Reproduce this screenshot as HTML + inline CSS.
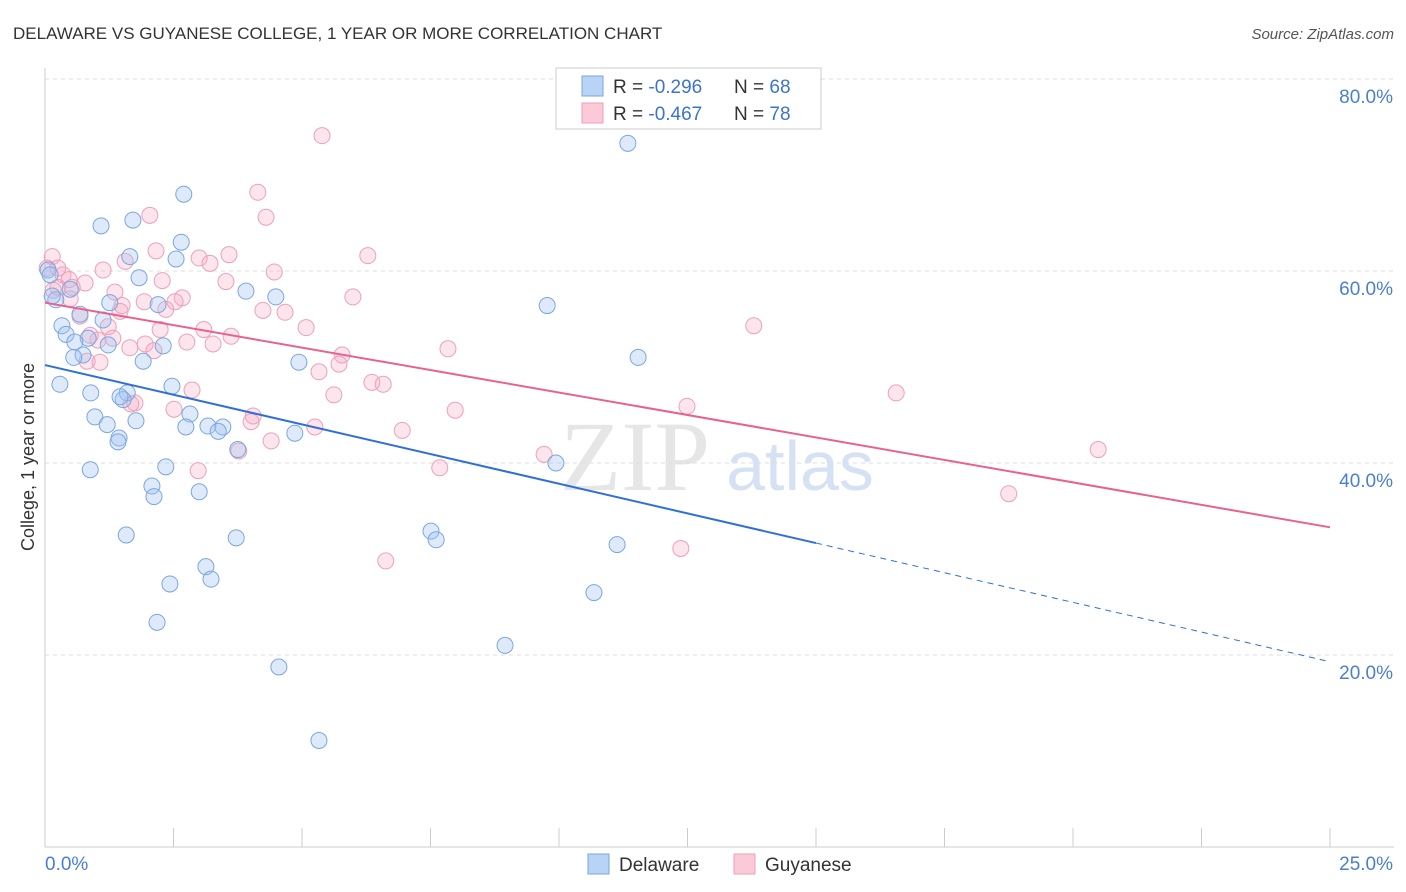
<!DOCTYPE html>
<html><head><meta charset="utf-8"><style>
body{margin:0;background:#fff;font-family:"Liberation Sans",sans-serif;}
svg{display:block}
</style></head><body>
<svg id="chart" width="1406" height="892">
<text x="13" y="39" font-size="17" fill="#333">DELAWARE VS GUYANESE COLLEGE, 1 YEAR OR MORE CORRELATION CHART</text>
<text x="1394" y="39" font-size="15" fill="#555" font-style="italic" text-anchor="end">Source: ZipAtlas.com</text>
<text x="34" y="457" font-size="18" fill="#333" text-anchor="middle" transform="rotate(-90 34 457)">College, 1 year or more</text>
<text x="635" y="490" font-size="100" fill="#e6e6e6" font-family="Liberation Serif,serif" text-anchor="middle">ZIP</text>
<text x="800" y="490" font-size="70" fill="#d6e2f4" text-anchor="middle">atlas</text>
<g id="grid"></g><g id="marks"></g><g id="lines"></g>
<g>
<rect x="556" y="68" width="265" height="61" fill="#fff" stroke="#ccc"/>
<rect x="582" y="76" width="21" height="20" fill="#b8d3f5" stroke="#7aa7e0"/>
<rect x="582" y="103" width="21" height="20" fill="#fbc9d8" stroke="#eea0b8"/>
<text x="613" y="93" font-size="19" fill="#333">R = <tspan fill="#3b73d0">-0.296</tspan><tspan x="734">N = </tspan><tspan fill="#3b73d0">68</tspan></text>
<text x="613" y="120" font-size="19" fill="#333">R = <tspan fill="#3b73d0">-0.467</tspan><tspan x="734">N = </tspan><tspan fill="#3b73d0">78</tspan></text>
</g>
<g>
<rect x="588" y="854" width="21" height="20" fill="#b8d3f5" stroke="#7aa7e0"/>
<text x="619" y="871" font-size="19" fill="#333">Delaware</text>
<rect x="734" y="854" width="21" height="20" fill="#fbc9d8" stroke="#eea0b8"/>
<text x="765" y="871" font-size="19" fill="#333">Guyanese</text>
</g>
</svg>
<script>
const yTicks=[20,40,60,80];
const xTickLabels=["0.0%","25.0%"];
const blueX=[11.34,2.70,1.09,1.71,2.65,1.65,2.55,0.06,1.83,0.49,3.91,4.49,0.21,1.26,2.20,9.77,0.68,1.13,0.33,0.41,0.84,0.58,2.30,0.74,0.56,1.91,4.94,11.54,0.29,2.47,0.89,1.60,1.52,2.82,0.97,1.77,1.21,2.74,3.17,3.46,3.37,1.44,1.42,4.86,3.75,9.94,0.88,2.35,2.08,2.12,3.00,7.51,7.61,1.58,3.72,11.13,3.13,3.23,2.43,10.68,2.18,8.95,4.55,5.33,0.14,1.23,0.10,1.46];
const blueY=[73.3,68.0,64.7,65.3,63.0,61.5,61.25,60.1,59.3,58.1,57.9,57.3,57.0,56.7,56.5,56.4,55.5,54.9,54.3,53.4,53.0,52.6,52.2,51.25,51.0,50.6,50.5,51.0,48.2,48.0,47.3,47.3,46.6,45.1,44.8,44.4,44.0,43.75,43.85,43.75,43.3,42.6,42.2,43.1,41.4,40.0,39.3,39.6,37.6,36.5,37.0,32.9,32.0,32.5,32.2,31.5,29.2,27.9,27.4,26.5,23.4,21.0,18.75,11.1,57.4,52.3,59.6,46.9];
const pinkX=[5.39,4.14,4.30,2.04,0.14,1.56,2.16,3.00,3.58,6.28,3.21,1.13,0.35,0.47,4.46,0.04,3.52,2.28,0.25,0.53,1.36,2.67,5.99,1.93,2.53,1.50,2.35,4.24,4.67,0.68,5.08,3.09,1.23,3.62,1.32,2.76,3.27,1.95,1.03,0.82,1.07,1.65,2.12,5.78,5.72,7.84,13.79,5.33,6.36,6.58,2.86,5.62,1.75,1.67,2.51,7.98,12.49,16.56,4.05,4.01,6.95,5.25,3.77,4.40,20.49,9.71,7.68,2.98,18.75,12.37,6.63,0.25,0.16,0.78,1.46,0.88,2.24,0.49];
const pinkY=[74.1,68.2,65.6,65.8,61.5,61.0,62.1,61.35,61.7,61.6,60.8,60.1,59.6,59.1,59.9,60.3,58.9,59.0,58.3,58.3,57.8,57.2,57.3,56.8,56.8,56.4,56.0,55.9,55.7,55.3,54.1,53.9,54.2,53.2,53.0,52.6,52.4,52.4,52.8,50.6,50.5,52.0,51.7,51.25,50.3,51.9,54.3,49.5,48.4,48.2,47.6,47.1,46.25,46.15,45.6,45.5,45.9,47.3,44.9,44.3,43.4,43.75,41.25,42.3,41.4,40.9,39.5,39.2,36.8,31.1,29.8,60.3,58.0,58.75,55.8,53.3,53.9,57.1];
const blueTrend=[50.2,19.3];   // y at x=0 and x=25
const pinkTrend=[56.7,33.3];
const NS="http://www.w3.org/2000/svg";
const X=v=>45+v*51.4, Y=v=>847-v*9.6;
function mk(tag,attrs,parent){const e=document.createElementNS(NS,tag);for(const k in attrs)e.setAttribute(k,attrs[k]);parent.appendChild(e);return e;}
const grid=document.getElementById('grid'),marks=document.getElementById('marks'),lines=document.getElementById('lines');
mk('line',{x1:45,y1:68,x2:45,y2:847,stroke:'#ccc'},grid);
mk('line',{x1:45,y1:847,x2:1394,y2:847,stroke:'#ccc'},grid);
yTicks.forEach(t=>{
 const g=mk('line',{x1:45,y1:Y(t),x2:1394,y2:Y(t),stroke:'#ddd','stroke-dasharray':'4,4'},grid);
 
 
 const tx=mk('text',{x:1393,y:Y(t)+24,'font-size':19,fill:'#4a7fd0','text-anchor':'end'},grid);
 tx.textContent=t.toFixed(1)+'%';
 
 
});
for(let i=0;i<=10;i++){mk('line',{x1:X(i*2.5),y1:828,x2:X(i*2.5),y2:847,stroke:'#ccc'},grid);}
const l0=mk('text',{x:45,y:870,'font-size':19,fill:'#4a7fd0'},grid);l0.textContent=xTickLabels[0];


const l1=mk('text',{x:1393,y:870,'font-size':19,fill:'#4a7fd0','text-anchor':'end'},grid);l1.textContent=xTickLabels[1];


pinkX.forEach((x,i)=>{const c=mk('circle',{cx:X(x),cy:Y(pinkY[i]),r:8,fill:'rgba(245,170,195,0.3)',stroke:'#eea0b8','stroke-width':1},marks);
 
 });
blueX.forEach((x,i)=>{const c=mk('circle',{cx:X(x),cy:Y(blueY[i]),r:8,fill:'rgba(160,196,240,0.35)',stroke:'#7aa7e0','stroke-width':1},marks);
 
 });
const by=x=>blueTrend[0]+(blueTrend[1]-blueTrend[0])*x/25;
const bl=mk('line',{x1:X(0),y1:Y(by(0)),x2:X(15),y2:Y(by(15)),stroke:'#2f6fd6','stroke-width':2},lines);


const bd=mk('line',{x1:X(15),y1:Y(by(15)),x2:X(25),y2:Y(by(25)),stroke:'#2f6fd6','stroke-width':1,'stroke-dasharray':'6,5'},lines);


const pl=mk('line',{x1:X(0),y1:Y(pinkTrend[0]),x2:X(25),y2:Y(pinkTrend[1]),stroke:'#e8628f','stroke-width':2},lines);


</script>
</body></html>
